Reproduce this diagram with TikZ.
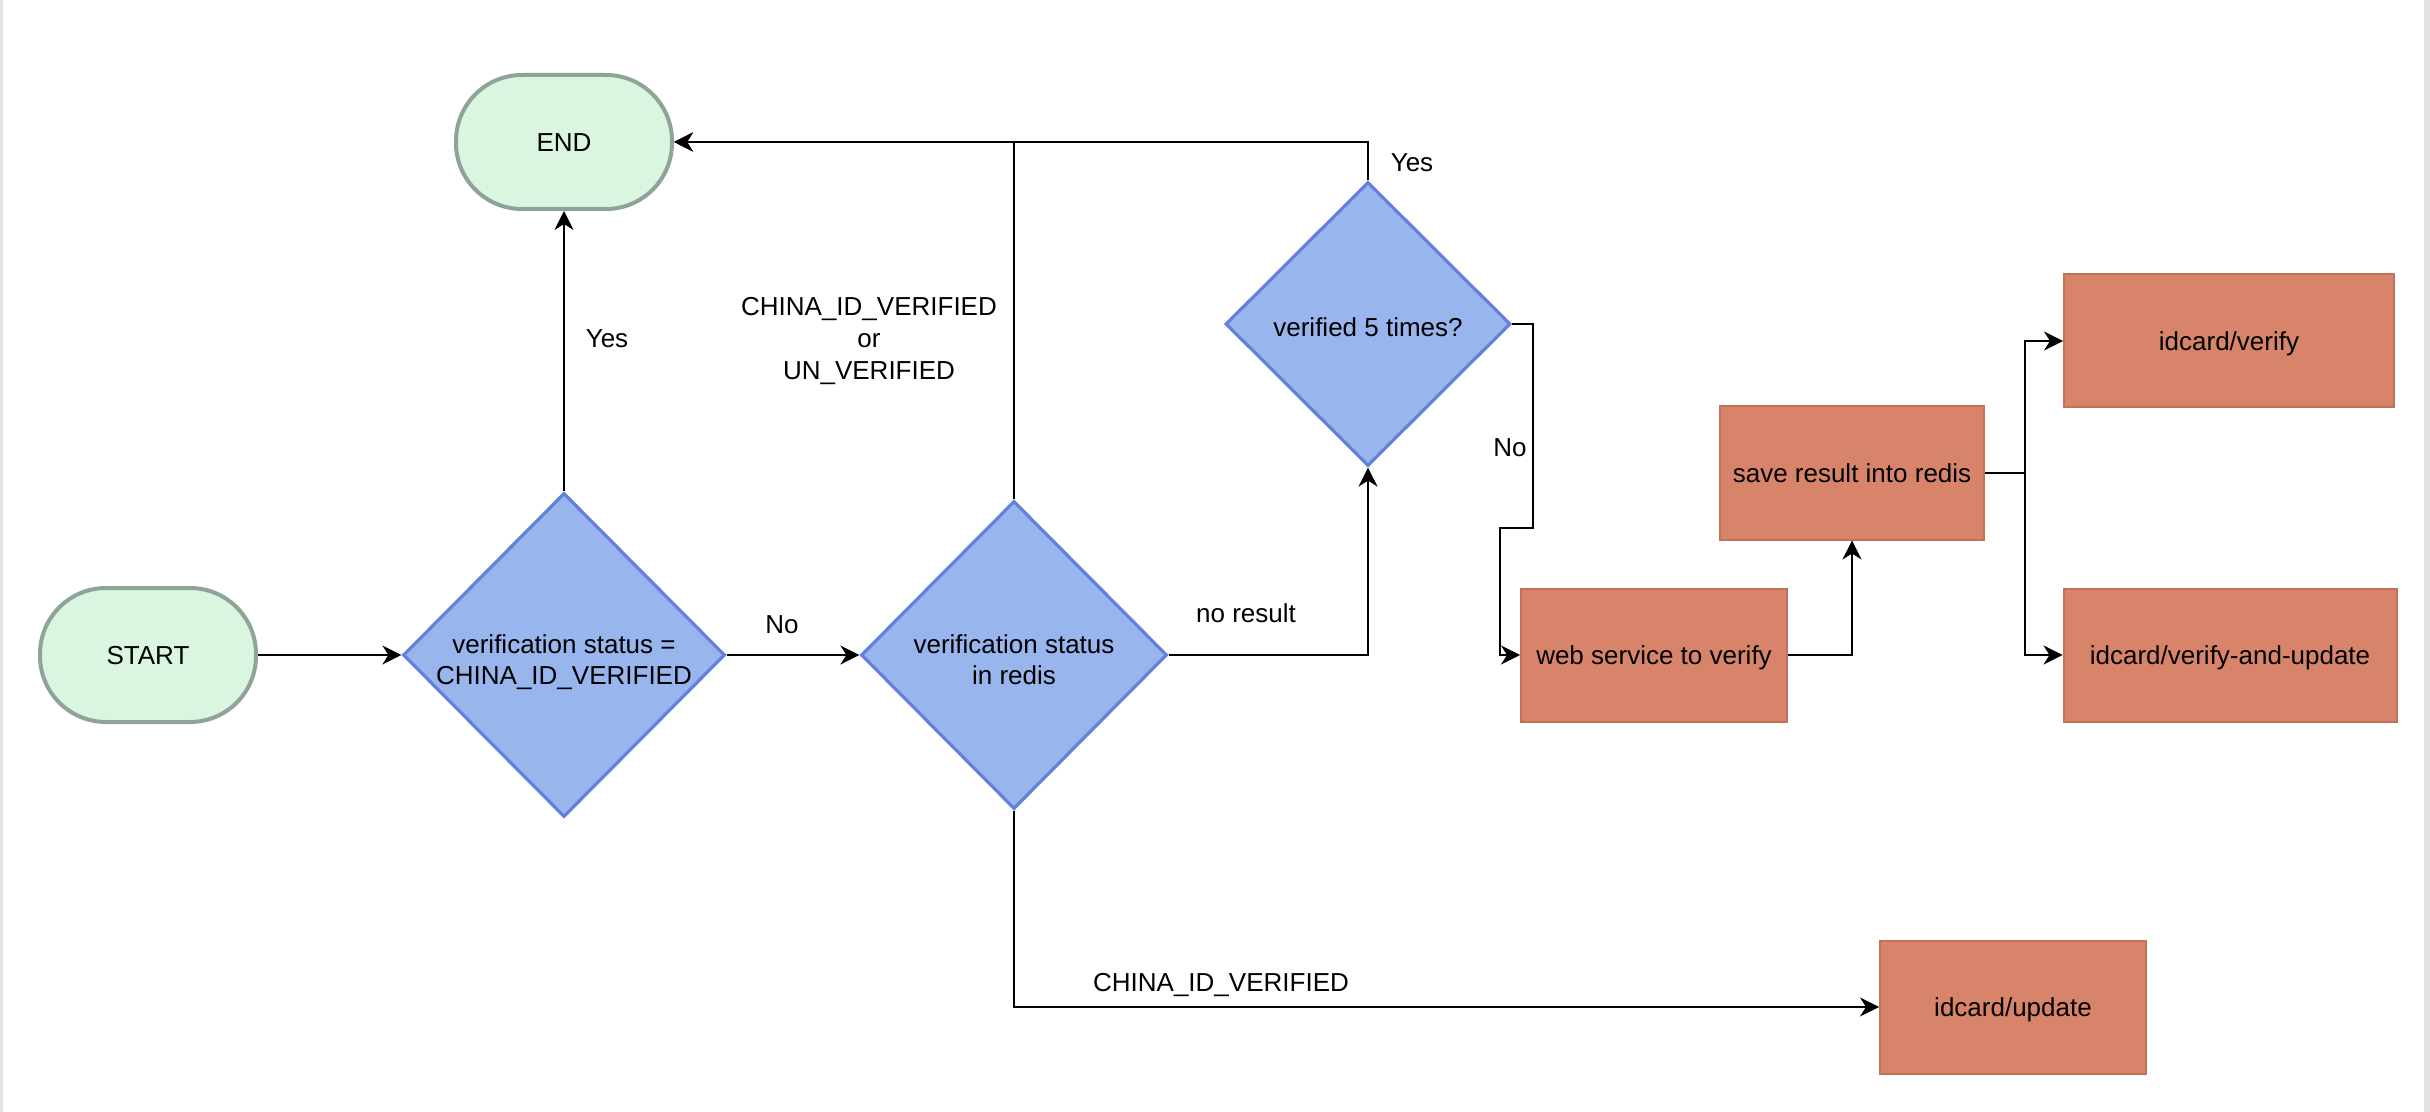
\documentclass[tikz,border=0pt]{standalone}
\usepackage{fontspec}
\setmainfont{Liberation Sans}
\usetikzlibrary{arrows.meta,shapes.geometric}

\definecolor{termfill}{RGB}{218,245,224}
\definecolor{termline}{RGB}{143,163,153}
\definecolor{decfill}{RGB}{153,181,238}
\definecolor{decline}{RGB}{98,129,219}
\definecolor{taskfill}{RGB}{216,132,106}
\definecolor{taskline}{RGB}{196,112,88}
\definecolor{framegray}{RGB}{226,226,226}

\tikzset{
  oneline/.style={text height=9.4pt, text depth=0pt},
  twolines/.style={text height=29pt, text depth=0pt},
  terminal/.style={draw=termline, fill=termfill, line width=2pt,
    rounded corners=33pt, minimum width=108pt, minimum height=67pt,
    inner sep=0pt, oneline},
  decision/.style={diamond, draw=decline, fill=decfill, line width=1.6pt,
    aspect=1, inner sep=0pt, align=center},
  task/.style={draw=taskline, fill=taskfill, line width=1pt,
    minimum height=66.5pt, inner sep=0pt, align=center, oneline},
  conn/.style={draw=black, line width=1pt,
    -{Stealth[length=9.5pt,width=9.5pt,inset=3pt]}},
  lbl/.style={inner sep=0pt, align=center},
}

\begin{document}
\begin{tikzpicture}[x=0.5pt, y=-0.5pt, font=\fontsize{13}{15.5}\selectfont]
  \useasboundingbox (0,0) rectangle (2430,1112);
  \fill[white] (0,0) rectangle (2430,1112);
  % thin page frame on the sides
  \fill[framegray] (0,0) rectangle (3,1112);
  \fill[framegray] (2424,0) rectangle (2430,1112);

  % terminals
  \node[terminal] (start) at (148,655) {START};
  \node[terminal] (endn) at (564,142) {END};

  % decisions
  \node[decision, twolines, minimum width=161pt, minimum height=162pt] (d1) at (564,655)
    {verification status =\\CHINA\_ID\_VERIFIED};
  \node[decision, twolines, minimum width=153pt, minimum height=154pt] (d2) at (1014,655)
    {verification status\\in redis};
  \node[decision, text height=12.4pt, text depth=0pt, minimum width=142.5pt, minimum height=142pt] (d3) at (1368,324)
    {verified 5 times?};

  % actions
  \node[task, minimum width=133pt] (web) at (1654,655) {web service to verify};
  \node[task, minimum width=132pt] (save) at (1852,473) {save result into redis};
  \node[task, minimum width=165pt] (verify) at (2229,341) {idcard/verify};
  \node[task, minimum width=166.5pt] (vau) at (2230,655) {idcard/verify-and-update};
  \node[task, minimum width=133pt] (update) at (2013,1007) {idcard/update};

  % bend points
  \coordinate (n1) at (1533,528);
  \coordinate (n2) at (1500,528);
  \coordinate (sp) at (2025,473);

  % connectors
  \draw[conn] (start.east) -- (d1.west);
  \draw[conn] (d1.north) -- (endn.south);
  \draw[conn] (d1.east) -- (d2.west);
  \draw[conn] (d2.north) |- (endn.east);
  \draw[conn] (d3.north) |- (endn.east);
  \draw[conn] (d2.east) -| (d3.south);
  \draw[conn] (d3.east) -| (n1) -- (n2) |- (web.west);
  \draw[conn] (web.east) -| (save.south);
  \draw[conn] (save.east) -- (sp) |- (verify.west);
  \draw[conn] (sp) |- (vau.west);
  \draw[conn] (d2.south) |- (update.west);

  % connector labels
  \node[lbl, oneline] (yes1) at (607,338) {Yes};
  \node[lbl, oneline] (no1) at (782,624) {No};
  \node[lbl, font=\fontsize{13}{16}\selectfont] (either) at (869,341)
    {CHINA\_ID\_VERIFIED\\or\\UN\_VERIFIED};
  \node[lbl, oneline] (nores) at (1246,613) {no result};
  \node[lbl, oneline] (yes2) at (1412,162) {Yes};
  \node[lbl, oneline] (no2) at (1510,447) {No};
  \node[lbl, oneline] (china) at (1221,982) {CHINA\_ID\_VERIFIED};
\end{tikzpicture}
\end{document}
